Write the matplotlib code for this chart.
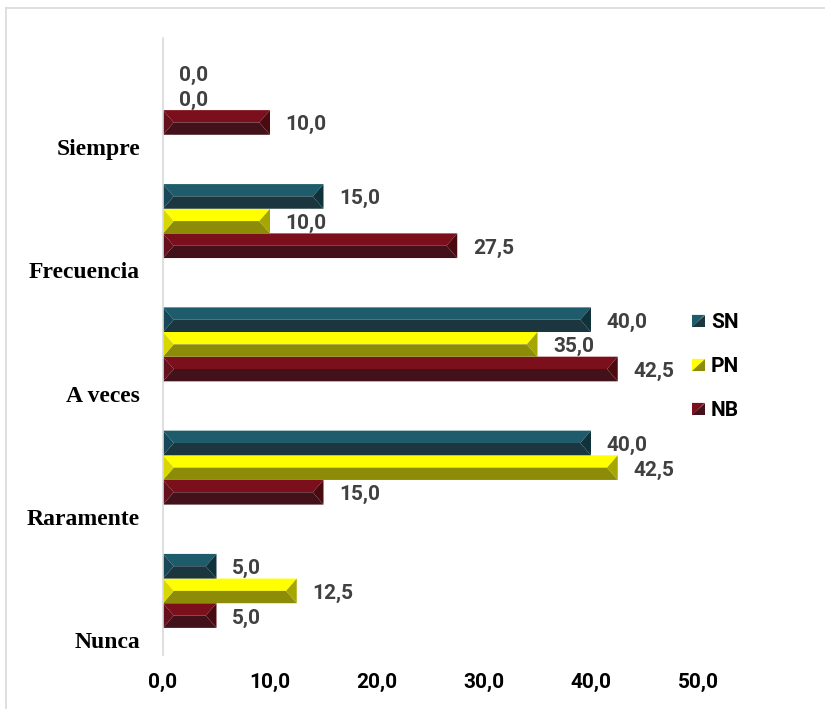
import numpy as np
import matplotlib
matplotlib.use('Agg')
import matplotlib.pyplot as plt
from matplotlib.patches import Polygon
from matplotlib.legend_handler import HandlerBase
from matplotlib.lines import Line2D

categories = ['Nunca', 'Raramente', 'A veces', 'Frecuencia', 'Siempre']
series = ['SN', 'PN', 'NB']
sn_values = [5.0, 40.0, 40.0, 15.0, 0.0]
pn_values = [12.5, 42.5, 35.0, 10.0, 0.0]
nb_values = [5.0, 15.0, 42.5, 27.5, 10.0]
x_ticks = [0, 10, 20, 30, 40, 50]

# facet colours: top, bottom, left end, right end
colors = {
    'SN': ('#1f5c6b', '#1b363e', '#17485a', '#10323a'),
    'PN': ('#ffff00', '#8c8c08', '#d8d800', '#a6a600'),
    'NB': ('#7b0f1c', '#43111a', '#65101c', '#4a0a10'),
}
offsets = {'NB': 0.2, 'PN': 0.4, 'SN': 0.6}
bar_h = 0.2
values = {'SN': sn_values, 'PN': pn_values, 'NB': nb_values}

sans = ['Roboto', 'DejaVu Sans']


def bevel_bar(ax, x1, yc, h, cols, d=1.0):
    if x1 <= 0:
        return
    x0 = 0.0
    yb, yt, ym = yc - h / 2, yc + h / 2, yc
    d = min(d, x1 / 3)
    top, bot, left, right = cols
    ax.add_patch(Polygon([(x0, yt), (x1, yt), (x1 - d, ym), (x0 + d, ym)], closed=True, fc=top, ec='none'))
    ax.add_patch(Polygon([(x0, yb), (x1, yb), (x1 - d, ym), (x0 + d, ym)], closed=True, fc=bot, ec='none'))
    ax.add_patch(Polygon([(x0, yt), (x0 + d, ym), (x0, yb)], closed=True, fc=left, ec='none'))
    ax.add_patch(Polygon([(x1, yt), (x1 - d, ym), (x1, yb)], closed=True, fc=right, ec='none'))


class BevelHandler(HandlerBase):
    def create_artists(self, legend, orig_handle, xdescent, ydescent,
                       width, height, fontsize, trans):
        s = min(width, height)
        x0 = -xdescent
        y0 = -ydescent + (height - s) / 2
        cols = colors[orig_handle.get_label()]
        p1 = Polygon([(x0, y0 + s), (x0 + s, y0 + s), (x0, y0)], closed=True,
                     fc=cols[0], ec='none', transform=trans)
        p2 = Polygon([(x0 + s, y0 + s), (x0 + s, y0), (x0, y0)], closed=True,
                     fc=cols[1], ec='none', transform=trans)
        return [p1, p2]


fig = plt.figure(figsize=(8.25, 7.09), dpi=100)
ax = fig.add_axes([163 / 825, 54 / 709, 535 / 825, 617 / 709])

y = np.arange(len(categories))
for s in ['NB', 'PN', 'SN']:
    for i, v in enumerate(values[s]):
        yc = y[i] + offsets[s]
        bevel_bar(ax, v, yc, bar_h, colors[s])
        ax.text(v + 1.45, yc - 0.02, f'{v:.1f}'.replace('.', ','), ha='left', va='center',
                fontsize=15, fontweight='bold', color='#404040', family=sans)

ax.set_xlim(0, 50)
ax.set_ylim(-0.12, 4.885)
ax.set_yticks(y)
ax.set_yticklabels(categories, family=['Liberation Serif', 'DejaVu Serif'],
                   fontweight='bold', fontsize=17)
ax.set_xticks(x_ticks)
ax.set_xticklabels([f'{t:.1f}'.replace('.', ',') for t in x_ticks],
                   family=sans, fontweight='bold', fontsize=15)
ax.tick_params(axis='y', length=0, pad=16.5)
ax.tick_params(axis='x', length=0, pad=13)
for sp in ['top', 'right', 'bottom']:
    ax.spines[sp].set_visible(False)
ax.spines['left'].set_color('#d9d9d9')
ax.spines['left'].set_linewidth(1.2)

handles = [Line2D([], [], label=s) for s in series]
ax.legend(handles=handles, labels=series, handler_map={Line2D: BevelHandler()},
          loc='center left', bbox_to_anchor=(692 / 825, 1 - 367 / 709),
          bbox_transform=fig.transFigure, frameon=False, borderpad=0,
          borderaxespad=0, handlelength=0.6, handleheight=0.6,
          handletextpad=0.3, labelspacing=1.2,
          prop={'family': sans, 'weight': 'bold', 'size': 15})

# outer chart frame
fig.add_artist(Line2D([6 / 825, 6 / 825], [0, 1 - 8 / 709], transform=fig.transFigure,
                      color='#d9d9d9', lw=1.2))
fig.add_artist(Line2D([6 / 825, 1], [1 - 8 / 709, 1 - 8 / 709], transform=fig.transFigure,
                      color='#d9d9d9', lw=1.2))

fig.savefig('out.png', dpi=100)
